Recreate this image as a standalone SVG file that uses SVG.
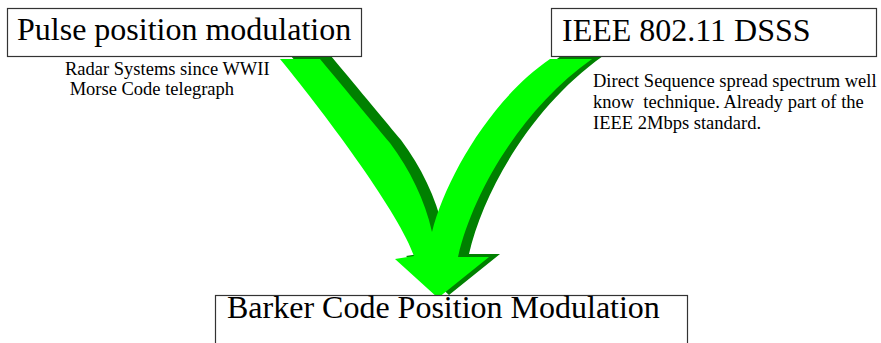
<svg xmlns="http://www.w3.org/2000/svg" width="881" height="343" viewBox="0 0 881 343" font-family="Liberation Serif, serif">
<defs>
<style>
.box{fill:#fff;stroke:#333;stroke-width:1.2}
.big{font-size:32px;fill:#000}
.small{font-size:18.5px;fill:#000;white-space:pre}
.dark{fill:#008000}
.bright{fill:#00ff00}
</style>
<path id="arrow" d="M280,59 L320,59 C350,95 375,125 390,143 C410,170 425,200 432,232 C445,180 490,100 550,59 L592,59 C520,110 472,195 458,257 L489,257 L438,298 L395,259 L414,256 C400,215 330,120 280,59 Z"/>
</defs>
<rect width="881" height="343" fill="#fff"/>
<g id="connectors">
<use href="#arrow" class="dark" transform="translate(11,-3)"/>
<use href="#arrow" class="bright"/>
</g>
<g id="node-ppm" font-family="Liberation Serif">
<rect class="box" x="7.5" y="8.5" width="354" height="48"/>
<text class="big" x="17" y="40" font-family="Liberation Serif">Pulse position modulation</text>
<text class="small" x="65" y="75" font-family="Liberation Serif">Radar Systems since WWII</text>
<text class="small" x="65" y="95" font-family="Liberation Serif"> Morse Code telegraph</text>
</g>
<g id="node-dsss" font-family="Liberation Serif">
<rect class="box" x="551.5" y="8.5" width="325" height="48"/>
<text class="big" x="562" y="41" font-family="Liberation Serif">IEEE 802.11 DSSS</text>
<text class="small" x="593" y="86.5" font-family="Liberation Serif">Direct Sequence spread spectrum well</text>
<text class="small" x="593" y="107.5" font-family="Liberation Serif">know  technique. Already part of the</text>
<text class="small" x="593" y="128.5" font-family="Liberation Serif">IEEE 2Mbps standard.</text>
</g>
<g id="node-barker" font-family="Liberation Serif">
<rect class="box" x="215.5" y="295.5" width="472" height="60"/>
<text class="big" x="227" y="318" font-family="Liberation Serif">Barker Code Position Modulation</text>
</g>
</svg>
